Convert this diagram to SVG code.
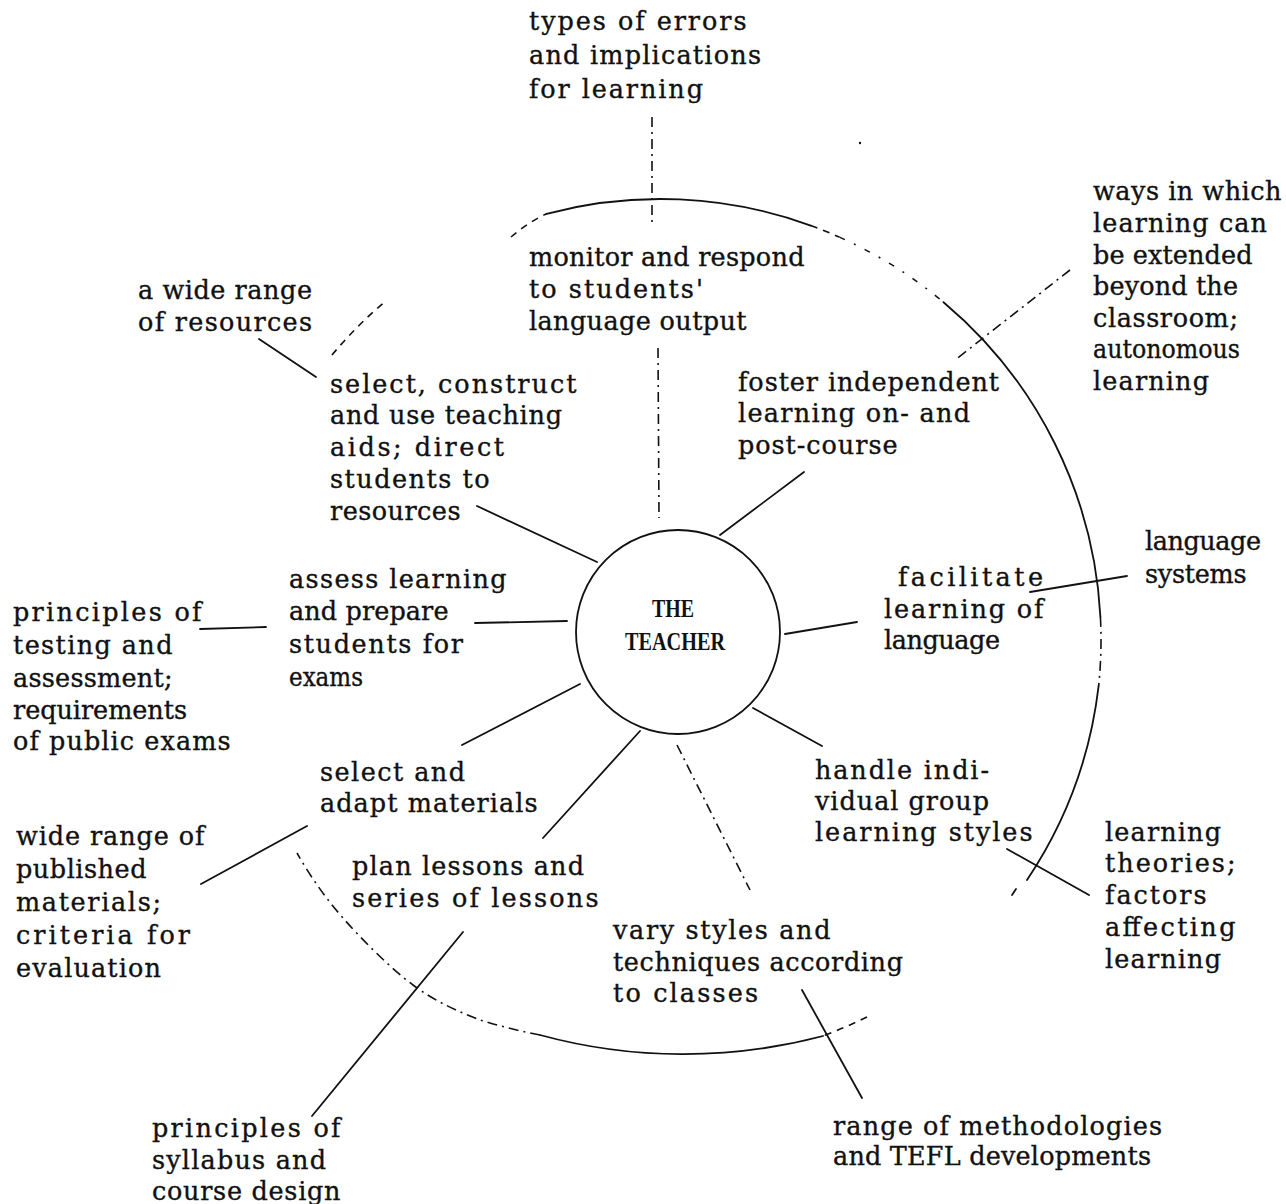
<svg xmlns="http://www.w3.org/2000/svg" width="1286" height="1204" viewBox="0 0 1286 1204">
  <style>
    .t { font-family: "DejaVu Serif", "Liberation Serif", serif; font-size: 25.5px; fill: #111; stroke: #111; stroke-width: 0.35px; }
    .hub { font-family: "Liberation Serif", "Times New Roman", serif; font-weight: bold; font-size: 25px; fill: #111; }
    .ln { fill: none; stroke: #111; stroke-width: 1.8; stroke-linecap: round; }
    .dd { fill: none; stroke: #111; stroke-width: 1.6; stroke-dasharray: 10 5 2 5; }
    .ds { fill: none; stroke: #111; stroke-width: 1.6; stroke-dasharray: 7 6; }
    .sp { fill: none; stroke: #111; stroke-width: 1.5; stroke-dasharray: 6 10 2 10; }
  </style>
  <rect width="1286" height="1204" fill="#fff"/>

  <!-- outer ring, drawn in broken pieces -->
  <g id="ring">
    <path class="ds" d="M332,355 Q357,325 387,300"/>
    <path class="ds" d="M511,237 Q527,223 546.6,213.8"/>
    <path class="ln" d="M546.6,213.8 A441,441 0 0 1 810.8,225.6"/>
    <path class="ds" d="M810.8,225.6 A441,441 0 0 1 839.4,237.1"/>
    <path class="sp" d="M839.4,237.1 A441,441 0 0 1 943.5,302.2"/>
    <path class="ln" d="M943.5,302.2 A441,441 0 0 1 1100.4,616.9"/>
    <path class="dd" d="M1100.4,616.9 A441,441 0 0 1 1098.6,686.1"/>
    <path class="ln" d="M1098.6,686.1 A441,441 0 0 1 1027,880"/>
    <path class="ln" d="M1016,889 L1012,895"/>
    <path class="ds" d="M867,1017 A545,545 0 0 1 823,1036"/>
    <path class="ln" d="M823,1036 A545,545 0 0 1 540,1035"/>
    <path class="dd" d="M540,1035 A545,545 0 0 1 480,1020 C458.8,1011.7 435.8,1002 413,985 C390.2,968 362.3,940 343,918 C323.7,896 309.2,874.3 297,853"/>
    <circle cx="860" cy="143" r="1.2" fill="#111"/>
  </g>

  <!-- spokes and links -->
  <g id="connectors">
    <path class="dd" d="M652,117 L652,222"/>
    <path class="dd" d="M658,348 L659,518"/>
    <path class="ln" d="M259,339 L316,377"/>
    <path class="ln" d="M477,506 L597,562"/>
    <path class="ln" d="M804,472 L720,535"/>
    <path class="dd" d="M1070,270 L955,360"/>
    <path class="ln" d="M475,623 L567,621"/>
    <path class="ln" d="M200,629 L266,627"/>
    <path class="ln" d="M785,634 L857,622"/>
    <path class="ln" d="M1030,592 L1127,576"/>
    <path class="ln" d="M753,708 L822,746"/>
    <path class="ln" d="M1007,849 L1089,895"/>
    <path class="ln" d="M462,745 L580,684"/>
    <path class="ln" d="M543,838 L640,731"/>
    <path class="dd" d="M677,745 L750,890"/>
    <path class="ln" d="M463,932 L312,1116"/>
    <path class="ln" d="M307,826 L201,884"/>
    <path class="ln" d="M802,990 L862,1098"/>
  </g>

  <g id="n-teacher">
    <circle cx="678" cy="632" r="102" class="ln"/>
    <text class="hub" x="652" y="617" textLength="42" lengthAdjust="spacingAndGlyphs">THE</text>
    <text class="hub" x="625" y="650" textLength="100" lengthAdjust="spacingAndGlyphs">TEACHER</text>
  </g>

  <g id="n-errors">
    <text class="t" x="529" y="30" textLength="217.5" lengthAdjust="spacing">types of errors</text>
    <text class="t" x="529" y="64" textLength="232" lengthAdjust="spacing">and implications</text>
    <text class="t" x="529" y="98" textLength="174" lengthAdjust="spacing">for learning</text>
  </g>

  <g id="n-monitor">
    <text class="t" x="529" y="266" textLength="275.5" lengthAdjust="spacing">monitor and respond</text>
    <text class="t" x="529" y="298" textLength="174" lengthAdjust="spacing">to students'</text>
    <text class="t" x="529" y="330" textLength="217.5" lengthAdjust="spacing">language output</text>
  </g>

  <g id="n-beyond">
    <text class="t" x="1093" y="200" textLength="188.5" lengthAdjust="spacing">ways in which</text>
    <text class="t" x="1093" y="232" textLength="174" lengthAdjust="spacing">learning can</text>
    <text class="t" x="1093" y="264" textLength="159.5" lengthAdjust="spacing">be extended</text>
    <text class="t" x="1093" y="295" textLength="145" lengthAdjust="spacing">beyond the</text>
    <text class="t" x="1093" y="327" textLength="145" lengthAdjust="spacing">classroom;</text>
    <text class="t" x="1093" y="358" textLength="147" lengthAdjust="spacingAndGlyphs">autonomous</text>
    <text class="t" x="1093" y="390" textLength="116" lengthAdjust="spacing">learning</text>
  </g>

  <g id="n-wide-resources">
    <text class="t" x="138" y="299" textLength="174" lengthAdjust="spacing">a wide range</text>
    <text class="t" x="138" y="331" textLength="174" lengthAdjust="spacing">of resources</text>
  </g>

  <g id="n-aids">
    <text class="t" x="330" y="393" textLength="246.5" lengthAdjust="spacing">select, construct</text>
    <text class="t" x="330" y="424" textLength="232" lengthAdjust="spacing">and use teaching</text>
    <text class="t" x="330" y="456" textLength="174" lengthAdjust="spacing">aids; direct</text>
    <text class="t" x="330" y="488" textLength="159.5" lengthAdjust="spacing">students to</text>
    <text class="t" x="330" y="520" textLength="130.5" lengthAdjust="spacing">resources</text>
  </g>

  <g id="n-foster">
    <text class="t" x="738" y="391" textLength="261" lengthAdjust="spacing">foster independent</text>
    <text class="t" x="738" y="422" textLength="232" lengthAdjust="spacing">learning on- and</text>
    <text class="t" x="738" y="454" textLength="159.5" lengthAdjust="spacing">post-course</text>
  </g>

  <g id="n-assess">
    <text class="t" x="289" y="588" textLength="217.5" lengthAdjust="spacing">assess learning</text>
    <text class="t" x="289" y="620" textLength="159.5" lengthAdjust="spacing">and prepare</text>
    <text class="t" x="289" y="653" textLength="174" lengthAdjust="spacing">students for</text>
    <text class="t" x="289" y="686" textLength="74" lengthAdjust="spacingAndGlyphs">exams</text>
  </g>

  <g id="n-testing">
    <text class="t" x="13" y="621" textLength="188.5" lengthAdjust="spacing">principles of</text>
    <text class="t" x="13" y="654" textLength="159.5" lengthAdjust="spacing">testing and</text>
    <text class="t" x="13" y="687" textLength="159.5" lengthAdjust="spacing">assessment;</text>
    <text class="t" x="13" y="719" textLength="174" lengthAdjust="spacing">requirements</text>
    <text class="t" x="13" y="750" textLength="217.5" lengthAdjust="spacing">of public exams</text>
  </g>

  <g id="n-facilitate">
    <text class="t" x="898" y="586" textLength="145" lengthAdjust="spacing">facilitate</text>
    <text class="t" x="884" y="618" textLength="159.5" lengthAdjust="spacing">learning of</text>
    <text class="t" x="884" y="649" textLength="116" lengthAdjust="spacing">language</text>
  </g>

  <g id="n-systems">
    <text class="t" x="1145" y="550" textLength="116" lengthAdjust="spacing">language</text>
    <text class="t" x="1145" y="583" textLength="101.5" lengthAdjust="spacing">systems</text>
  </g>

  <g id="n-handle">
    <text class="t" x="815" y="779" textLength="174" lengthAdjust="spacing">handle indi-</text>
    <text class="t" x="815" y="810" textLength="174" lengthAdjust="spacing">vidual group</text>
    <text class="t" x="815" y="841" textLength="217.5" lengthAdjust="spacing">learning styles</text>
  </g>

  <g id="n-theories">
    <text class="t" x="1105" y="841" textLength="116" lengthAdjust="spacing">learning</text>
    <text class="t" x="1105" y="872" textLength="130.5" lengthAdjust="spacing">theories;</text>
    <text class="t" x="1105" y="904" textLength="101.5" lengthAdjust="spacing">factors</text>
    <text class="t" x="1105" y="936" textLength="130.5" lengthAdjust="spacing">affecting</text>
    <text class="t" x="1105" y="968" textLength="116" lengthAdjust="spacing">learning</text>
  </g>

  <g id="n-adapt">
    <text class="t" x="320" y="781" textLength="145" lengthAdjust="spacing">select and</text>
    <text class="t" x="320" y="812" textLength="217.5" lengthAdjust="spacing">adapt materials</text>
  </g>

  <g id="n-published">
    <text class="t" x="16" y="845" textLength="188.5" lengthAdjust="spacing">wide range of</text>
    <text class="t" x="16" y="878" textLength="130.5" lengthAdjust="spacing">published</text>
    <text class="t" x="16" y="911" textLength="145" lengthAdjust="spacing">materials;</text>
    <text class="t" x="16" y="944" textLength="174" lengthAdjust="spacing">criteria for</text>
    <text class="t" x="16" y="977" textLength="145" lengthAdjust="spacing">evaluation</text>
  </g>

  <g id="n-plan">
    <text class="t" x="352" y="875" textLength="232" lengthAdjust="spacing">plan lessons and</text>
    <text class="t" x="352" y="907" textLength="246.5" lengthAdjust="spacing">series of lessons</text>
  </g>

  <g id="n-syllabus">
    <text class="t" x="152" y="1137" textLength="188.5" lengthAdjust="spacing">principles of</text>
    <text class="t" x="152" y="1169" textLength="174" lengthAdjust="spacing">syllabus and</text>
    <text class="t" x="152" y="1200" textLength="188.5" lengthAdjust="spacing">course design</text>
  </g>

  <g id="n-vary">
    <text class="t" x="613" y="939" textLength="217.5" lengthAdjust="spacing">vary styles and</text>
    <text class="t" x="613" y="971" textLength="290" lengthAdjust="spacing">techniques according</text>
    <text class="t" x="613" y="1002" textLength="145" lengthAdjust="spacing">to classes</text>
  </g>

  <g id="n-methods">
    <text class="t" x="833" y="1135" textLength="329" lengthAdjust="spacing">range of methodologies</text>
    <text class="t" x="833" y="1165" textLength="318" lengthAdjust="spacing">and TEFL developments</text>
  </g>
</svg>
